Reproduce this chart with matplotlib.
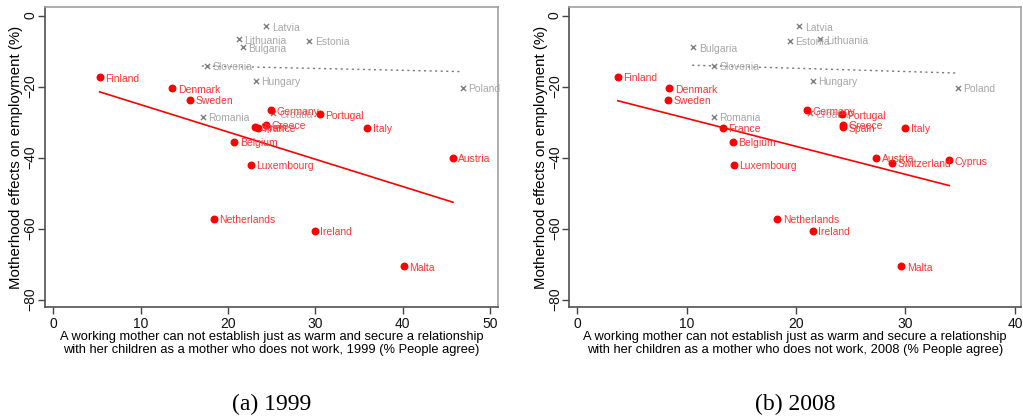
import numpy as np
import matplotlib
matplotlib.use("Agg")
import matplotlib.pyplot as plt

plt.rcParams['font.family'] = ['Liberation Sans', 'DejaVu Sans']

# EU-15 style countries (red dots)
red_names_99 = ['Finland', 'Denmark', 'Sweden', 'Germany', 'Portugal', 'Greece', 'Spain',
                'France', 'Italy', 'Belgium', 'Austria', 'Luxembourg', 'Netherlands',
                'Ireland', 'Malta']
red_x_99 = [5.3, 13.6, 15.6, 24.9, 30.5, 24.3, 23.1, 23.4, 35.9, 20.7, 45.7, 22.6, 18.4, 29.9, 40.1]
red_y_99 = [-17.4, -20.5, -23.8, -26.7, -27.8, -30.8, -31.4, -31.7, -31.7, -35.5, -40.0,
            -42.0, -57.3, -60.7, -70.6]

red_names_08 = ['Finland', 'Denmark', 'Sweden', 'Germany', 'Portugal', 'Greece', 'Spain',
                'France', 'Italy', 'Belgium', 'Austria', 'Switzerland', 'Cyprus',
                'Luxembourg', 'Netherlands', 'Ireland', 'Malta']
red_x_08 = [3.7, 8.4, 8.3, 21.0, 24.2, 24.3, 24.3, 13.3, 30.0, 14.2, 27.3, 28.8, 34.0,
            14.3, 18.3, 21.5, 29.6]
red_y_08 = [-17.3, -20.5, -23.8, -26.7, -27.8, -30.8, -31.5, -31.7, -31.7, -35.5, -40.0,
            -41.5, -40.8, -42.0, -57.3, -60.7, -70.6]

# other countries (grey crosses)
grey_names = ['Latvia', 'Lithuania', 'Bulgaria', 'Estonia', 'Slovenia', 'Hungary',
              'Poland', 'Romania', 'Croatia']
grey_x_99 = [24.4, 21.2, 21.7, 29.3, 17.6, 23.2, 46.9, 17.1, 25.2]
grey_x_08 = [20.3, 22.2, 10.6, 19.4, 12.5, 21.5, 34.8, 12.5, 21.3]
grey_y = [-3.0, -6.7, -9.0, -7.2, -14.2, -18.4, -20.3, -28.5, -27.5]

# fitted lines (end points)
fit_x_99 = [5.3, 45.75]
fit_y_99 = [-21.5, -52.6]
fit_x_08 = [3.7, 34.0]
fit_y_08 = [-24.0, -47.9]
dot_x_99 = [17.0, 46.8]
dot_y_99 = [-14.2, -15.8]
dot_x_08 = [10.5, 34.7]
dot_y_08 = [-14.0, -16.2]

xlab_99 = ('A working mother can not establish just as warm and secure a relationship\n'
           'with her children as a mother who does not work, 1999 (% People agree)')
xlab_08 = ('A working mother can not establish just as warm and secure a relationship\n'
           'with her children as a mother who does not work, 2008 (% People agree)')

W, H = 1023, 418
fig = plt.figure(figsize=(W / 100, H / 100), dpi=100)
ax1 = fig.add_axes([45 / W, 111 / H, 453 / W, 300 / H])
ax2 = fig.add_axes([569.3 / W, 111 / H, 451.4 / W, 300 / H])

red = '#ff0000'
red_txt = '#ff3333'
grey_mk = '#808080'
grey_txt = '#a6a6a6'


def panel(ax, rx, ry, rn, gx, gn, fx, fy, dx, dy, xmax, xlim, xlab, caption):
    ax.plot(dx, dy, linestyle=(0, (1.5, 2.5)), color='#777777', lw=1.0, zorder=1)
    ax.plot(fx, fy, color=red, lw=1.2, zorder=2)
    ax.scatter(gx, grey_y, marker='x', s=14, color=grey_mk, linewidths=1.0, zorder=3)
    for x, y, n in zip(gx, grey_y, gn):
        ax.annotate(n, (x, y), xytext=(4, -1), textcoords='offset points',
                    va='center', ha='left', fontsize=7.5, color=grey_txt, zorder=3)
    ax.scatter(rx, ry, s=22, color=red, zorder=4)
    for x, y, n in zip(rx, ry, rn):
        ax.annotate(n, (x, y), xytext=(4, -1), textcoords='offset points',
                    va='center', ha='left', fontsize=7.5, color=red_txt, zorder=4)
    ax.set_xlim(*xlim)
    ax.set_ylim(-82.1, 2.4)
    ax.set_xticks(np.arange(0, xmax + 1, 10))
    ax.set_yticks([0, -20, -40, -60, -80])
    ax.tick_params(axis='both', direction='out', length=5, width=1, color='#444444',
                   labelsize=10, labelcolor='#111111')
    ax.tick_params(axis='x', pad=2)
    ax.tick_params(axis='y', pad=2.5)
    for lbl in ax.get_yticklabels():
        lbl.set_rotation(90)
        lbl.set_rotation_mode('anchor')
        lbl.set_ha('center')
        lbl.set_va('baseline')
    for s in ['left', 'bottom']:
        ax.spines[s].set_color('#505050')
        ax.spines[s].set_linewidth(1.2)
    for s in ['top', 'right']:
        ax.spines[s].set_color('#a0a0a0')
        ax.spines[s].set_linewidth(1.2)
    ax.set_xlabel(xlab, fontsize=9.3, labelpad=0, linespacing=1.15)
    ax.set_ylabel('Motherhood effects on employment (%)', fontsize=10.8)
    bb = ax.get_position()
    ax.yaxis.set_label_coords(-(21.5 / W) / bb.width, 0.5)
    ax.text(0.5, -0.325, caption, transform=ax.transAxes, ha='center', va='center',
            fontsize=17, family=['Liberation Serif', 'DejaVu Serif'])


panel(ax1, red_x_99, red_y_99, red_names_99, grey_x_99, grey_names, fit_x_99, fit_y_99,
      dot_x_99, dot_y_99, 50, (-0.95, 50.9), xlab_99, '(a) 1999')
panel(ax2, red_x_08, red_y_08, red_names_08, grey_x_08, grey_names, fit_x_08, fit_y_08,
      dot_x_08, dot_y_08, 40, (-0.73, 40.53), xlab_08, '(b) 2008')

fig.savefig('out.png', dpi=100)
